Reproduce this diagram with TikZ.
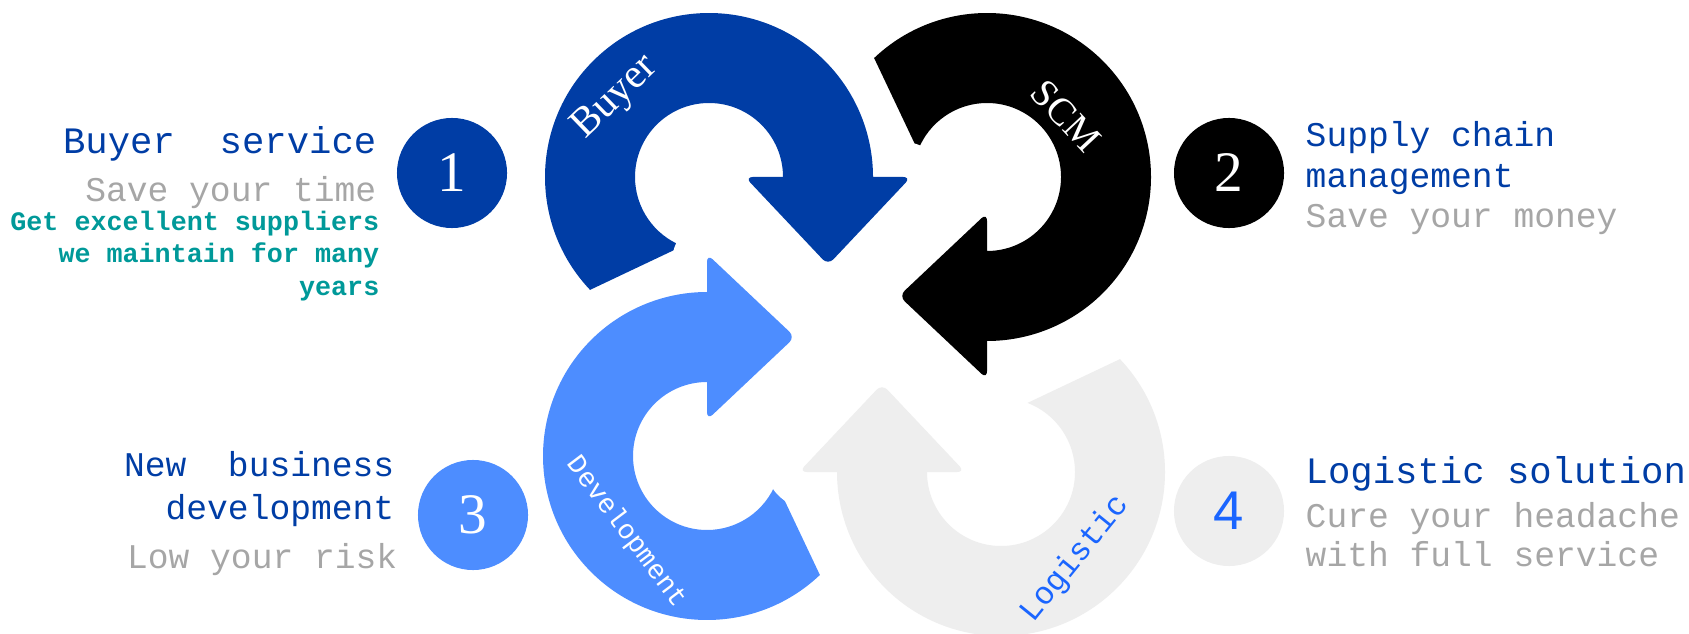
\documentclass[tikz,border=0pt]{standalone}
\usepackage{fontspec}
\setmainfont{Liberation Serif}
\newfontfamily\monofam{Liberation Mono}
\newfontfamily\sansfam{Liberation Sans}
\definecolor{buyerblue}{RGB}{0,61,165}
\definecolor{devblue}{RGB}{77,141,255}
\definecolor{logigrey}{RGB}{238,238,238}
\definecolor{subgrey}{RGB}{166,166,166}
\definecolor{noteteal}{RGB}{0,153,153}
\definecolor{logiblue}{RGB}{26,101,255}
\newcommand{\looparrow}[3]{\begin{scope}[shift={#1},rotate=#2]
  \fill[#3,preaction={gapline}] (223.5:164) arc[start angle=223.5,end angle=0,radius=164] [rounded corners=2.2pt] -- (202,0) -- (119,-88) -- (36,0) [sharp corners] -- (74,0) arc[start angle=0,end angle=249,radius=74] -- cycle;
\end{scope}}
\begin{document}
\begin{tikzpicture}[x=0.01cm,y=0.01cm,
    gapline/.style={draw=white,line width=7mm,line join=round},
    numdot/.style={circle,minimum size=1.1cm,inner sep=0pt,text=white,font=\fontsize{16.3}{18}\selectfont},
    headbig/.style={inner sep=0pt,text=buyerblue,font=\monofam\fontsize{10.6}{12}\selectfont},
    headsmall/.style={inner sep=0pt,text=buyerblue,font=\monofam\fontsize{9.85}{12}\selectfont},
    subtext/.style={inner sep=0pt,text=subgrey,font=\monofam\fontsize{9.85}{12}\selectfont},
    note/.style={inner sep=0pt,text=noteteal,font=\monofam\bfseries\fontsize{7.6}{9}\selectfont}]
    \useasboundingbox (0,0) rectangle (1689,-634);
    \looparrow{(709,-177)}{0}{buyerblue}
    \looparrow{(707,-456)}{90}{devblue}
    \looparrow{(1001,-472)}{180}{logigrey}
    \looparrow{(987,-177)}{-90}{black}
    \begin{scope}
        \clip (815,0) rectangle (985,-205);
        \looparrow{(709,-177)}{0}{buyerblue}
    \end{scope}
    \node[rotate=44,text=white,font=\fontsize{11.8}{13}\selectfont] (lbuyer) at (616,-98) {Buyer};
    \node[rotate=-47,text=white,font=\fontsize{11}{13}\selectfont] (lscm) at (1066,-116) {SCM};
    \node[rotate=-53,text=white,font=\monofam\fontsize{7.8}{9}\selectfont] (ldev) at (626,-532) {Development};
    \node[rotate=51,text=logiblue,font=\monofam\fontsize{9.1}{11}\selectfont] (llog) at (1075,-559) {Logistic};
    \node[numdot,fill=buyerblue] (n1) at (452,-173) {1};
    \node[numdot,fill=black] (n2) at (1229,-173) {2};
    \node[numdot,fill=devblue] (n3) at (473,-515) {3};
    \node[numdot,fill=logigrey,text=logiblue,font=\sansfam\fontsize{15.5}{18}\selectfont] (n4) at (1229,-511) {4};
    \node[headbig,anchor=base east] (t1) at (377,-154) {Buyer~~service};
    \node[subtext,anchor=base east] (s1) at (377,-201.7) {Save your time};
    \node[note,anchor=base east] (m1) at (380,-231) {Get excellent suppliers};
    \node[note,anchor=base east] (m2) at (380,-263) {we maintain for many};
    \node[note,anchor=base east] (m3) at (380,-295) {years};
    \node[headsmall,anchor=base west] (t2) at (1305,-146.7) {Supply chain};
    \node[headsmall,anchor=base west] (t2b) at (1305,-187.7) {management};
    \node[subtext,anchor=base west] (s2) at (1305,-227.7) {Save your money};
    \node[headsmall,anchor=base east] (t3) at (395,-476.7) {New~~business};
    \node[headsmall,anchor=base east] (t3b) at (395,-519) {development};
    \node[subtext,anchor=base east] (s3) at (398,-568.3) {Low your risk};
    \node[headbig,anchor=base west] (t4) at (1305,-483.3) {Logistic solution};
    \node[subtext,anchor=base west] (s4) at (1305,-527.3) {Cure your headache};
    \node[subtext,anchor=base west] (s4b) at (1305,-566.7) {with full service};
\end{tikzpicture}
\end{document}
